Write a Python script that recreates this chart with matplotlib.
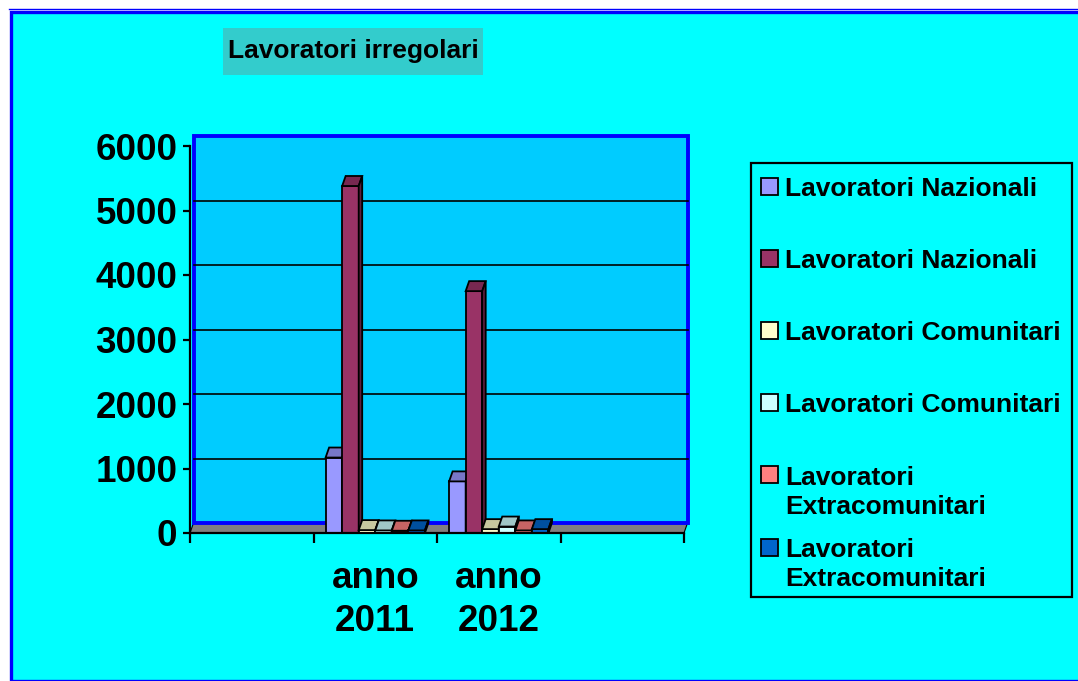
import matplotlib
matplotlib.use("Agg")
import matplotlib.pyplot as plt
import numpy as np
from matplotlib.colors import to_rgb
from matplotlib.lines import Line2D
from matplotlib.patches import Polygon, Rectangle

plt.rcParams["font.family"] = ["Liberation Sans", "DejaVu Sans"]
plt.rcParams["font.weight"] = "bold"

W, H, DPI = 1078, 681, 100

# dati
categorie = ["", "anno\n2011", "anno\n2012", ""]
etichette = [
    "Lavoratori Nazionali",
    "Lavoratori Nazionali",
    "Lavoratori Comunitari",
    "Lavoratori Comunitari",
    "Lavoratori\nExtracomunitari",
    "Lavoratori\nExtracomunitari",
]
nazionali_a = [np.nan, 1170, 800, np.nan]
nazionali_b = [np.nan, 5380, 3750, np.nan]
comunitari_a = [np.nan, 45, 60, np.nan]
comunitari_b = [np.nan, 40, 100, np.nan]
extracom_a = [np.nan, 35, 40, np.nan]
extracom_b = [np.nan, 40, 60, np.nan]
serie = [nazionali_a, nazionali_b, comunitari_a, comunitari_b, extracom_a, extracom_b]
colori = ["#9999FF", "#993366", "#FFFFCC", "#CCFFFF", "#FF8080", "#0066CC"]
y_ticks = [0, 1000, 2000, 3000, 4000, 5000, 6000]

CIANO = "#00FFFF"
AREA = "#00CCFF"
BLU = "#0000FF"


def fx(px):
    return px / W


def fy(py):
    return 1 - py / H


def shade(color, k):
    return tuple(c * k for c in to_rgb(color))


fig = plt.figure(figsize=(W / DPI, H / DPI), dpi=DPI, facecolor="white")

# cornice esterna
fig.patches.append(Rectangle((fx(10.5), 0), 1.0, fy(11.5), transform=fig.transFigure,
                             facecolor=CIANO, edgecolor=BLU, linewidth=2.4, zorder=-3))
fig.lines.append(Line2D([fx(9), 1], [fy(8.5), fy(8.5)], transform=fig.transFigure,
                        color=BLU, linewidth=1.0, zorder=-3))

# titolo
fig.patches.append(Rectangle((fx(223), fy(75)), fx(260), 47 / H, transform=fig.transFigure,
                             facecolor="#33CCCC", edgecolor="none", zorder=-2))
fig.text(fx(353), fy(51), "Lavoratori irregolari", fontsize=19, fontweight="bold",
         ha="center", va="center", zorder=2)

ax = fig.add_axes([fx(190), fy(533), fx(494), 387 / H])
ax.set_facecolor("none")
ax.set_xlim(-0.5, 3.5)
ax.set_ylim(0, 6000)

# profondità 3D in unità dati
dx = 3.5 * 4 / 494
dy = 10 * 6000 / 387

# pavimento, parete di fondo e griglia
ax.add_patch(Polygon([(-0.5, 0), (3.5, 0), (3.5 + dx, dy), (-0.5 + dx, dy)],
                     closed=True, facecolor="#808080", edgecolor="black", linewidth=0.8,
                     clip_on=False, zorder=0))
ax.add_patch(Rectangle((-0.5 + dx, dy), 4, 6000, facecolor=AREA, edgecolor=BLU,
                       linewidth=2.8, clip_on=False, zorder=1))
for v in y_ticks[1:-1]:
    ax.plot([-0.5 + dx, 3.5 + dx], [v + dy, v + dy], color="black", linewidth=1.2,
            clip_on=False, zorder=2)

bw = 0.134
x = np.arange(len(categorie))
for i, (vals, col) in enumerate(zip(serie, colori)):
    xs = x + (i - 2.5) * bw
    z = 3 + i
    ax.bar(xs, vals, width=bw, color=col, edgecolor="black", linewidth=1.3, zorder=z,
           clip_on=False)
    for xc, v in zip(xs, vals):
        if np.isnan(v):
            continue
        l, r = xc - bw / 2, xc + bw / 2
        ax.add_patch(Polygon([(l, v), (l + dx, v + dy), (r + dx, v + dy), (r, v)],
                             closed=True, facecolor=shade(col, 0.78), edgecolor="black",
                             linewidth=1.3, clip_on=False, zorder=z))
        ax.add_patch(Polygon([(r, 0), (r + dx, dy), (r + dx, v + dy), (r, v)],
                             closed=True, facecolor=shade(col, 0.6), edgecolor="black",
                             linewidth=1.3, clip_on=False, zorder=z))

for s in ["top", "right"]:
    ax.spines[s].set_visible(False)
for s in ["left", "bottom"]:
    ax.spines[s].set_linewidth(1.6)
    ax.spines[s].set_zorder(20)

ax.set_yticks(y_ticks)
ax.tick_params(axis="y", labelsize=26.5, length=5, width=1.6, pad=4)
ax.set_xticks(x)
ax.set_xticklabels(categorie, fontsize=26.5, fontweight="bold", linespacing=1.3)
ax.set_xticks(np.arange(-0.5, 4, 1), minor=True)
ax.tick_params(axis="x", which="major", length=0, pad=20)
ax.tick_params(axis="x", which="minor", length=7, width=1.6)
for lab in ax.get_yticklabels():
    lab.set_fontweight("bold")

# legenda disegnata a mano (le voci su due righe restano allineate in alto)
fig.patches.append(Rectangle((fx(751), fy(597)), fx(321), 434 / H, transform=fig.transFigure,
                             facecolor="none", edgecolor="black", linewidth=1.6, zorder=5))
for k, (lab, col) in enumerate(zip(etichette, colori)):
    yc = 186 + k * 72.2
    extra = lab.count("\n") * 30
    fig.patches.append(Rectangle((fx(761), fy(yc + 8.5)), fx(17), 17 / H,
                                 transform=fig.transFigure, facecolor=col,
                                 edgecolor="black", linewidth=1.3, zorder=6))
    fig.text(fx(785), fy(yc + 9.5 + extra), lab, fontsize=19, fontweight="bold", ha="left",
             va="baseline", linespacing=1.3, zorder=6)

fig.savefig("out.png", dpi=DPI, facecolor="white")
